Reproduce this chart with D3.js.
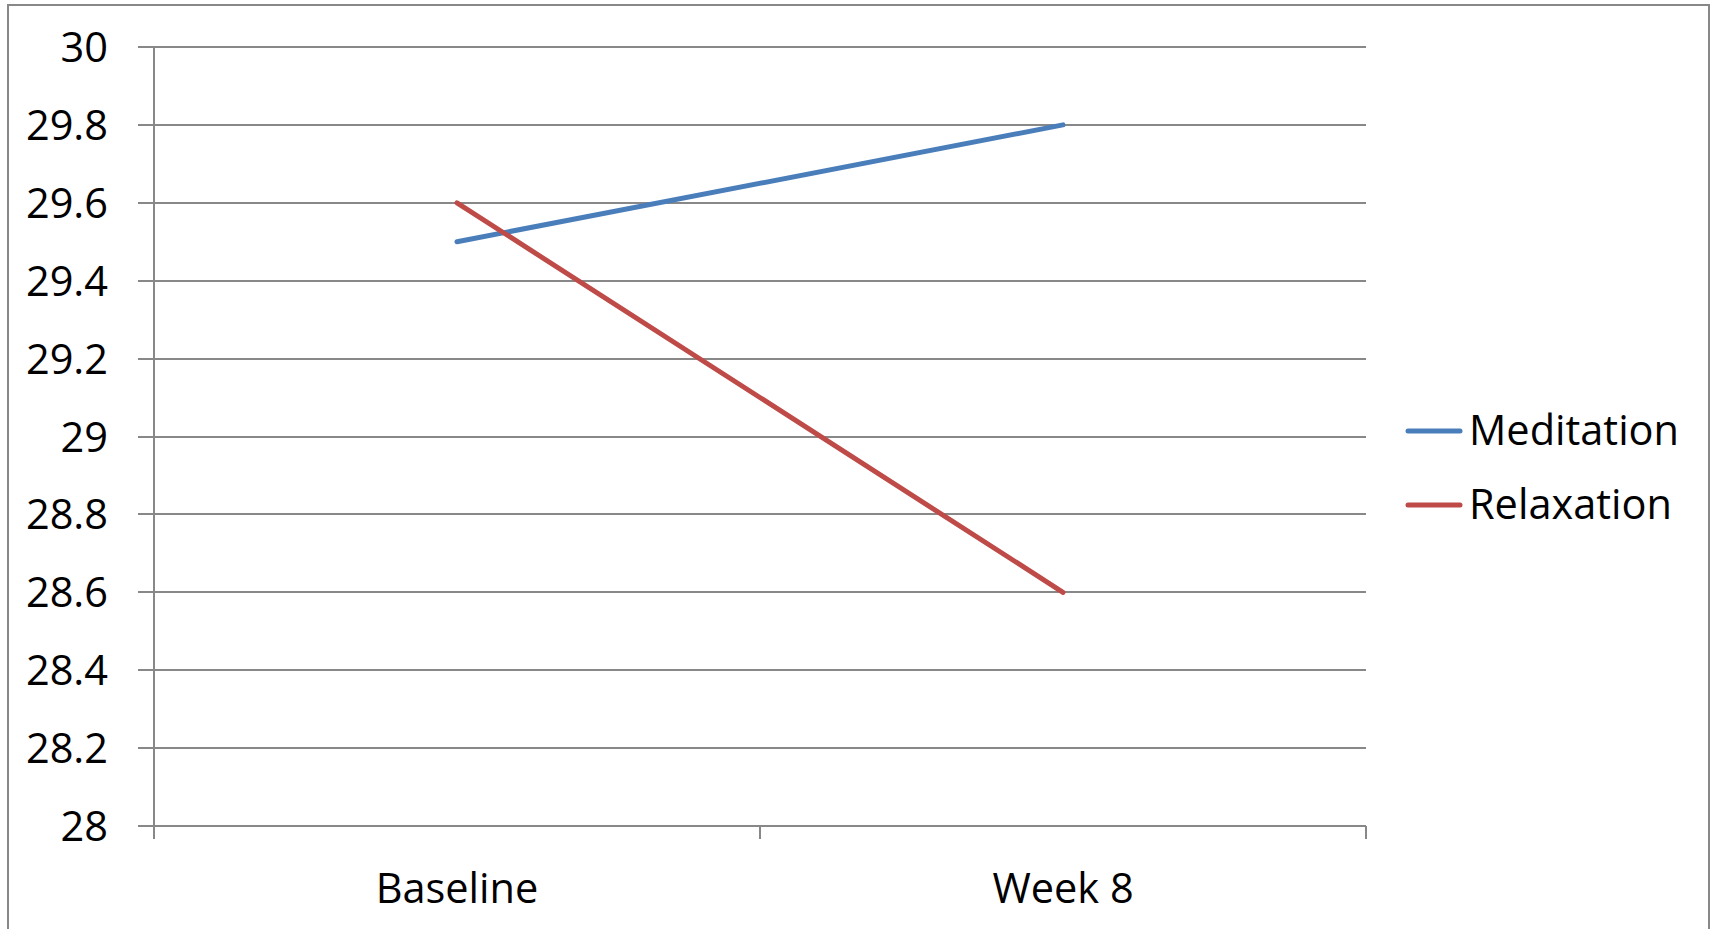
<!DOCTYPE html>
<html><head><meta charset="utf-8">
<script src="https://cdn.jsdelivr.net/npm/d3@7"></script>
<style>body{margin:0;background:#fff;}svg{display:block;}text{font-family:"Open Sans",Lato,sans-serif;fill:#000;}</style>
</head><body>
<svg id="c" width="1716" height="929"></svg>
<script>
const categories = ["Baseline", "Week 8"];
const seriesNames = ["Meditation", "Relaxation"];
const meditation = [29.5, 29.8];
const relaxation = [29.6, 28.6];
const yTicks = [28, 28.2, 28.4, 28.6, 28.8, 29, 29.2, 29.4, 29.6, 29.8, 30];
const colors = ["#4A7EBB", "#BE4B48"];
const series = [meditation, relaxation];

const svg = d3.select("#c");
const fs = 41.5;
// outer border
svg.append("rect").attr("x",8).attr("y",5).attr("width",1701).attr("height",940)
  .attr("fill","none").attr("stroke","#888").attr("stroke-width",2);

const L=154, R=1366, T=47, B=826;
const x = d3.scaleBand().domain(categories).range([L,R]);
const y = d3.scaleLinear().domain([28,30]).range([B,T]);

// gridlines
svg.append("g").selectAll("line").data(yTicks).join("line")
  .attr("x1",L-16).attr("x2",R).attr("y1",d=>y(d)).attr("y2",d=>y(d))
  .attr("stroke","#888").attr("stroke-width",2).attr("shape-rendering","crispEdges");

// y axis line
svg.append("line").attr("x1",L).attr("x2",L).attr("y1",T).attr("y2",B+13)
  .attr("stroke","#888").attr("stroke-width",2).attr("shape-rendering","crispEdges");

// x ticks at band edges
const edges = categories.map(c=>x(c)).concat([R]);
svg.append("g").selectAll("line").data(edges).join("line")
  .attr("x1",d=>d).attr("x2",d=>d).attr("y1",B).attr("y2",B+13)
  .attr("stroke","#888").attr("stroke-width",2).attr("shape-rendering","crispEdges");

// y labels
svg.append("g").selectAll("text").data(yTicks).join("text")
  .attr("x",108).attr("y",d=>y(d)+15).attr("text-anchor","end")
  .attr("font-size",fs).text(d=>d3.format("")(d));

// x labels
svg.append("g").selectAll("text").data(categories).join("text")
  .attr("x",d=>x(d)+x.bandwidth()/2).attr("y",903).attr("text-anchor","middle")
  .attr("font-size",fs).text(d=>d);

// lines
const line = d3.line().x((d,i)=>x(categories[i])+x.bandwidth()/2).y(d=>y(d));
series.forEach((s,i)=>{
  svg.append("path").datum(s).attr("d",line).attr("fill","none")
    .attr("stroke",colors[i]).attr("stroke-width",5).attr("stroke-linecap","round");
});

// legend
const ly = [431, 505];
seriesNames.forEach((n,i)=>{
  svg.append("line").attr("x1",1408).attr("x2",1460).attr("y1",ly[i]).attr("y2",ly[i])
    .attr("stroke",colors[i]).attr("stroke-width",5).attr("stroke-linecap","round");
  svg.append("text").attr("x",1469).attr("y",ly[i]+14).attr("font-size",fs).text(n);
});
</script>
</body></html>
